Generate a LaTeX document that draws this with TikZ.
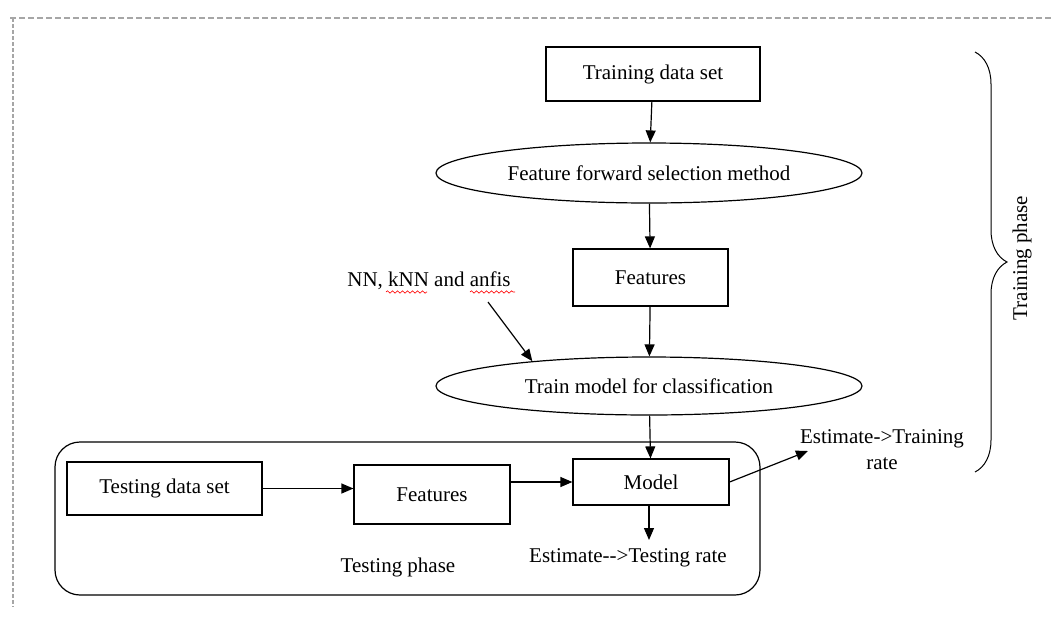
\documentclass[tikz,border=0pt]{standalone}
\usepackage{fontspec}
\setmainfont{Liberation Serif}
\usepackage{tikz}
\usetikzlibrary{calc,shapes.geometric,arrows.meta,decorations.pathreplacing,decorations.pathmorphing}

\begin{document}
\begin{tikzpicture}[x=0.5pt,y=-0.5pt,
	font=\fontsize{10.5}{13}\selectfont,
	box/.style={draw,line width=0.6pt,inner sep=0pt},
	oval/.style={ellipse,draw,line width=0.6pt,inner sep=0pt,minimum width=213pt,minimum height=30pt},
	arr/.style={-{Triangle[length=6pt,width=5pt]},line width=0.6pt}]
		\useasboundingbox (0,0) rectangle (1051,617);
		% dashed page frame
		\draw [gray!70,line width=1pt,dash pattern=on 3pt off 1.5pt] (10,18) -- (1051,18);
		\draw [gray!70,line width=1pt,dash pattern=on 2pt off 1pt] (13,18) -- (13,607);

		\node [box,minimum width=107pt,minimum height=27pt] (tds) at (653,74) {Training data set};
		\node [oval] (ffs) at (649,173) {Feature forward selection method};
		\node [box,minimum width=77.5pt,minimum height=28.5pt] (feat) at (650.5,277.5) {Features};
		\node [oval,minimum height=29pt] (tmc) at (649,386) {Train model for classification};
		\node (nn) at (429,281) {NN, kNN and anfis};

		\draw [arr] (tds) to (ffs);
		\draw [arr] (ffs) to (feat);
		\draw [arr] (feat) to (tmc);
		\coordinate (nnstart) at (488,302);
		\draw [arr] (nnstart) to (tmc.168);
		% spell check marks
		\draw [red,line width=0.3pt,decorate,decoration={snake,amplitude=0.6pt,segment length=2.5pt}] (386,292) -- (427,292);
		\draw [red,line width=0.3pt,decorate,decoration={snake,amplitude=0.6pt,segment length=2.5pt}] (470,292) -- (515,292);

		% testing phase
		\draw [line width=0.6pt,rounded corners=12.5pt] (55,442) rectangle (760,595);
		\node [box,minimum width=97.5pt,minimum height=26.5pt] (teds) at (164.5,488.5) {Testing data set\hspace{7pt}};
		\node [box,minimum width=78pt,minimum height=29.5pt] (feat2) at (432,494.5) {Features};
		\node [box,minimum width=78pt,minimum height=23pt] (model) at (651,482) {Model};
		\node (tph) at (398,567) {Testing phase};
		\node (estt) at (628,558) {Estimate-{}->Testing rate};
		\node [align=center] (estr) at (882,450) {Estimate->Training\\rate};

		\draw [arr] (teds.east) to (teds.east -| feat2.west);
		\draw [arr] (feat2.east |- model.west) to (model.west);
		\draw [arr] (tmc) to (model);
		\coordinate (tetip) at (649,540);
		\draw [arr] (model.south -| tetip) to (tetip);
		\coordinate (trtip) at (808,451);
		\draw [arr] (model.east) to (trtip);

		% training phase brace
		\draw [line width=0.5pt,decorate,decoration={brace,amplitude=16pt}] (975,52) -- (975,472);
		\node [rotate=90] (trph) at (1022,258) {Training phase};
\end{tikzpicture}
\end{document}
